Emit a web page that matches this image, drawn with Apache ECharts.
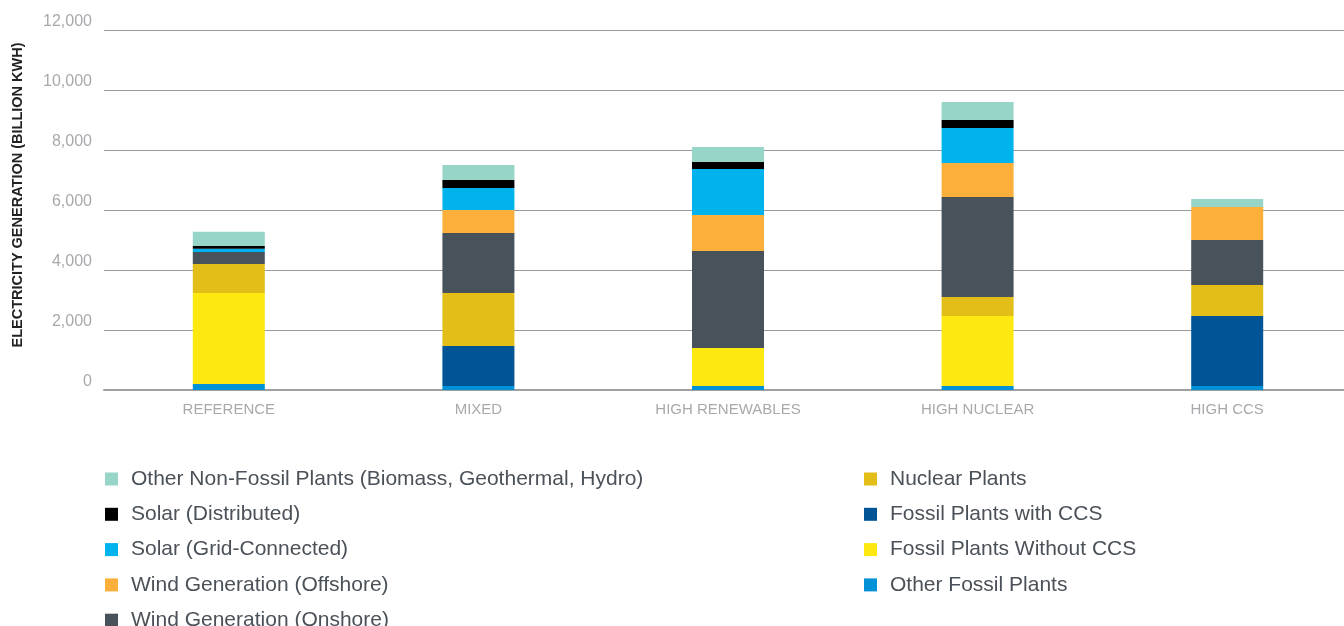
<!DOCTYPE html>
<html>
<head>
<meta charset="utf-8">
<script src="https://cdn.jsdelivr.net/npm/echarts@6/dist/echarts.min.js"></script>
<style>
html,body{margin:0;padding:0;background:#fff;overflow:hidden;width:1344px;height:626px;}
#c{width:1354px;height:626px;}
</style>
</head>
<body>
<div id="c"></div>
<script>
const categories = ['REFERENCE', 'MIXED', 'HIGH RENEWABLES', 'HIGH NUCLEAR', 'HIGH CCS'];
const yTicks = [0, 2000, 4000, 6000, 8000, 10000, 12000];

// values in billion kWh, bottom of stack first
const otherFossil      = [200, 133, 133, 133, 133];
const fossilNoCCS      = [3033, 0, 1267, 2333, 0];
const fossilCCS        = [0, 1333, 0, 0, 2333];
const nuclear          = [967, 1767, 0, 633, 1033];
const windOnshore      = [400, 2000, 3233, 3333, 1500];
const windOffshore     = [0, 767, 1200, 1133, 1100];
const solarGrid        = [110, 733, 1533, 1167, 0];
const solarDistributed = [90, 267, 233, 267, 0];
const otherNonFossil   = [477, 500, 500, 600, 267];

const names = {
  otherNonFossil: 'Other Non-Fossil Plants (Biomass, Geothermal, Hydro)',
  solarDistributed: 'Solar (Distributed)',
  solarGrid: 'Solar (Grid-Connected)',
  windOffshore: 'Wind Generation (Offshore)',
  windOnshore: 'Wind Generation (Onshore)',
  nuclear: 'Nuclear Plants',
  fossilCCS: 'Fossil Plants with CCS',
  fossilNoCCS: 'Fossil Plants Without CCS',
  otherFossil: 'Other Fossil Plants'
};

const stackDefs = [
  [names.otherFossil, otherFossil, '#0191d6'],
  [names.fossilNoCCS, fossilNoCCS, '#fee811'],
  [names.fossilCCS, fossilCCS, '#015495'],
  [names.nuclear, nuclear, '#e3be19'],
  [names.windOnshore, windOnshore, '#48525b'],
  [names.windOffshore, windOffshore, '#fcb03b'],
  [names.solarGrid, solarGrid, '#00b3ec'],
  [names.solarDistributed, solarDistributed, '#000000'],
  [names.otherNonFossil, otherNonFossil, '#98d5c9']
];

const series = stackDefs.map(([n, d, c]) => ({
  name: n,
  type: 'bar',
  stack: 'total',
  data: d,
  barWidth: 72,
  itemStyle: { color: c },
  emphasis: { disabled: true }
}));

const legendText = {
  color: '#4b5158',
  fontFamily: 'Liberation Sans, Arial, sans-serif',
  fontSize: 21,
  lineHeight: 22,
  padding: [0, 0, 0, 8]
};

const legendBase = {
  orient: 'vertical', top: 468, height: 200, padding: 0,
  itemWidth: 13, itemHeight: 13, itemGap: 13.3,
  icon: 'rect', selectedMode: false, textStyle: legendText
};

const chart = echarts.init(document.getElementById('c'), null, { renderer: 'canvas' });
chart.setOption({
  animation: false,
  backgroundColor: '#ffffff',
  grid: { left: 104, right: 2, top: 30, bottom: 236, containLabel: false },
  legend: [
    Object.assign({}, legendBase, {
      left: 105,
      data: [names.otherNonFossil, names.solarDistributed, names.solarGrid, names.windOffshore, names.windOnshore]
    }),
    Object.assign({}, legendBase, {
      left: 864,
      data: [names.nuclear, names.fossilCCS, names.fossilNoCCS, names.otherFossil]
    })
  ],
  xAxis: {
    type: 'category',
    data: categories,
    axisTick: { show: false },
    axisLine: { lineStyle: { color: '#a0a0a0', width: 2 } },
    axisLabel: {
      color: '#a7a9ac',
      fontFamily: 'Liberation Sans, sans-serif',
      fontSize: 15,
      margin: 12
    }
  },
  yAxis: {
    type: 'value',
    min: yTicks[0],
    max: yTicks[yTicks.length - 1],
    interval: 2000,
    name: 'ELECTRICITY GENERATION (BILLION KWH)',
    nameLocation: 'middle',
    nameGap: 79,
    nameRotate: 90,
    nameTextStyle: {
      color: '#222222',
      fontFamily: 'Liberation Sans, sans-serif',
      fontWeight: 'bold',
      fontSize: 14.5,
      padding: [0, 0, 0, 30]
    },
    axisLine: { show: false },
    axisTick: { show: false },
    splitLine: { lineStyle: { color: '#999999', width: 1 } },
    axisLabel: {
      color: '#a7a9ac',
      fontFamily: 'Liberation Sans, sans-serif',
      fontSize: 16,
      margin: 12,
      verticalAlign: 'bottom',
      formatter: v => v.toLocaleString('en-US')
    }
  },
  series: series
});
</script>
</body>
</html>
